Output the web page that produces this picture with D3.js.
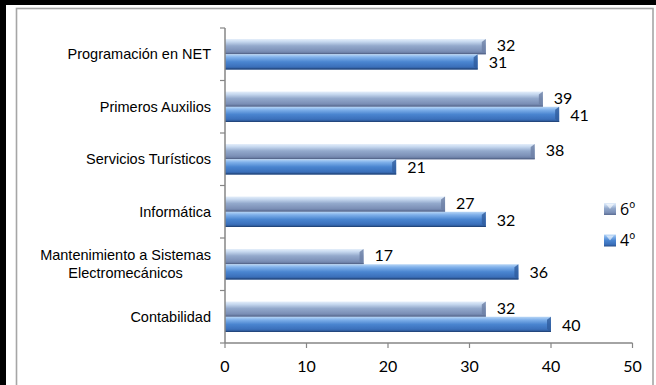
<!DOCTYPE html>
<html><head><meta charset="utf-8">
<script src="https://cdn.jsdelivr.net/npm/d3@7"></script>
<style>html,body{margin:0;padding:0;background:#fff;}svg{display:block;}</style>
</head><body>
<svg id="chart" width="656" height="385"></svg>
<script>
const categories = ["Programación en NET","Primeros Auxilios","Servicios Turísticos","Informática","Mantenimiento a Sistemas Electromecánicos","Contabilidad"];
const labelLines = [["Programación en NET"],["Primeros Auxilios"],["Servicios Turísticos"],["Informática"],["Mantenimiento a Sistemas","Electromecánicos"],["Contabilidad"]];
const seriesNames = ["6º","4º"];
const values6 = [32,39,38,27,17,32];
const values4 = [31,41,21,32,36,40];
const xTicks = [0,10,20,30,40,50];

const svg = d3.select("#chart");
const defs = svg.append("defs");
function grad(id, stops){
  const g = defs.append("linearGradient").attr("id",id).attr("x1",0).attr("y1",0).attr("x2",0).attr("y2",1);
  stops.forEach(s=>g.append("stop").attr("offset",s[0]).attr("stop-color",s[1]));
}
grad("g6",[[0,"#e4eefa"],[0.18,"#c6d8ef"],[0.45,"#93a9cc"],[0.8,"#7b8fb6"],[1,"#5b6d93"]]);
grad("g4",[[0,"#b8d6f6"],[0.2,"#7fb0ea"],[0.5,"#4a85d0"],[0.82,"#3b70bb"],[1,"#284f8a"]]);
const fills = ["url(#g6)","url(#g4)"];
const capFill = ["#6d7fa5","#2f5d9e"];
const numFont = "Lato, 'Open Sans', sans-serif";
const catFont = "'Liberation Sans', Arial, sans-serif";

// frame
svg.append("rect").attr("x",0).attr("y",0).attr("width",656).attr("height",5).attr("fill","#000");
svg.append("rect").attr("x",0).attr("y",0).attr("width",6).attr("height",385).attr("fill","#000");
svg.append("rect").attr("x",16.5).attr("y",8.5).attr("width",636.5).attr("height",400)
  .attr("fill","none").attr("stroke","#a6a6a6").attr("stroke-width",1.6);

const x = d3.scaleLinear().domain([0,50]).range([225,632.5]);
const y = d3.scaleBand().domain(categories).range([28,343]).padding(0);
const ySub = d3.scaleBand().domain(seriesNames).range([y.bandwidth()*0.21, y.bandwidth()*0.79]).padding(0);

// bars
const data = [];
categories.forEach((c,i)=>{
  data.push({c, s:0, v:values6[i]});
  data.push({c, s:1, v:values4[i]});
});
const g = svg.append("g");
data.forEach(d=>{
  const y0 = y(d.c)+ySub(seriesNames[d.s]);
  const h = ySub.bandwidth();
  const x0 = x(0), x1 = x(d.v);
  g.append("rect").attr("x",x0).attr("y",y0).attr("width",x1-x0).attr("height",h).attr("fill",fills[d.s]);
  g.append("path").attr("d",`M${x1-4},${y0+3}L${x1},${y0}L${x1},${y0+h}L${x1-4},${y0+h-3}Z`).attr("fill",capFill[d.s]).attr("opacity",0.8);
  g.append("line").attr("x1",x0).attr("x2",x1).attr("y1",y0+h-0.5).attr("y2",y0+h-0.5).attr("stroke",d.s? "#23477d":"#55668a").attr("stroke-width",1);
  svg.append("text").attr("x",x1+11).attr("y",y0+h/2+(d.s?1:-1)).attr("dy","0.35em")
    .attr("font-family",numFont).attr("font-size",16).attr("fill","#000").text(d.v);
});

// axes
const axisColor = "#868686";
svg.append("line").attr("x1",225).attr("x2",225).attr("y1",28).attr("y2",343).attr("stroke",axisColor).attr("stroke-width",1.5);
svg.append("line").attr("x1",225).attr("x2",632.5).attr("y1",343).attr("y2",343).attr("stroke",axisColor).attr("stroke-width",1.5);
categories.concat([null]).forEach((c,i)=>{
  const yy = c? y(c) : y.range()[1];
  svg.append("line").attr("x1",220).attr("x2",225).attr("y1",yy).attr("y2",yy).attr("stroke",axisColor).attr("stroke-width",1.2);
});
xTicks.forEach(t=>{
  svg.append("line").attr("x1",x(t)).attr("x2",x(t)).attr("y1",343).attr("y2",348).attr("stroke",axisColor).attr("stroke-width",1.2);
  svg.append("text").attr("x",x(t)).attr("y",366).attr("dy","0.35em").attr("text-anchor","middle")
    .attr("font-family",numFont).attr("font-size",16).attr("fill","#000").text(t);
});

// category labels
categories.forEach((c,i)=>{
  const lines = labelLines[i];
  const cy = y(c)+y.bandwidth()/2;
  const lh = 18;
  if(lines.length===1){
    svg.append("text").attr("x",211).attr("y",cy).attr("dy","0.35em").attr("text-anchor","end")
      .attr("font-family",catFont).attr("font-size",14.5).attr("fill","#000").text(lines[0]);
  } else {
    const t1 = svg.append("text").attr("x",211).attr("y",cy-lh/2).attr("dy","0.35em").attr("text-anchor","end")
      .attr("font-family",catFont).attr("font-size",14.5).attr("fill","#000").text(lines[0]);
    const w = t1.node().getComputedTextLength();
    svg.append("text").attr("x",211-w/2).attr("y",cy+lh/2).attr("dy","0.35em").attr("text-anchor","middle")
      .attr("font-family",catFont).attr("font-size",14.5).attr("fill","#000").text(lines[1]);
  }
});

// legend
const legendY = [209,240.5];
seriesNames.forEach((s,i)=>{
  const ly = legendY[i];
  svg.append("rect").attr("x",604).attr("y",ly-6).attr("width",12).attr("height",12).attr("fill",fills[i]);
  svg.append("path").attr("d",`M${606},${ly-5}L${614},${ly-5}L${610},${ly}Z`).attr("fill","#ffffff").attr("opacity",0.6);
  svg.append("text").attr("x",620).attr("y",ly).attr("dy","0.35em")
    .attr("font-family","'Open Sans', Lato, sans-serif").attr("font-size",16).attr("fill","#000").text(s);
});
</script>
</body></html>
